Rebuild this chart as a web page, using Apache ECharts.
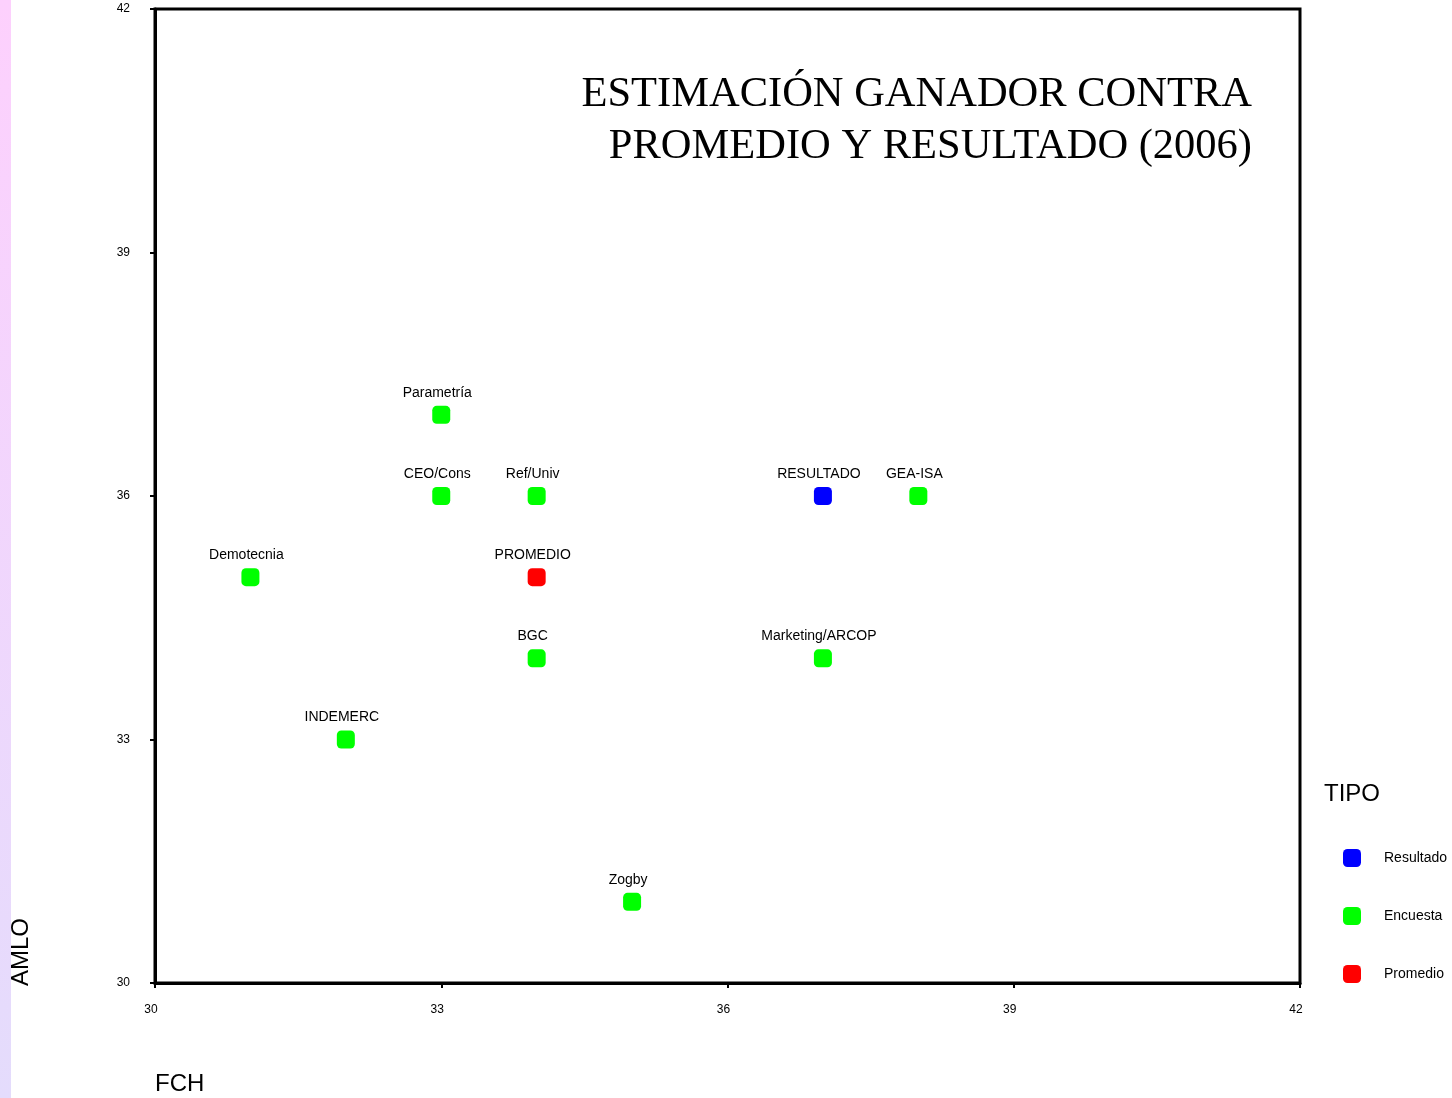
<!DOCTYPE html>
<html><head><meta charset="utf-8">
<script src="https://cdn.jsdelivr.net/npm/echarts@6/dist/echarts.min.js"></script>
<style>html,body{margin:0;padding:0;background:#fff}#c{width:1452px;height:1098px}</style>
</head><body><div id="c"></div>
<script>
const names = ['Parametría','CEO/Cons','Ref/Univ','RESULTADO','GEA-ISA','Demotecnia','PROMEDIO','BGC','Marketing/ARCOP','INDEMERC','Zogby'];
const fch   = [33,33,34,37,38,31,34,34,37,32,35];
const amlo  = [37,36,36,36,36,35,35,34,34,33,31];
const tipo  = ['Encuesta','Encuesta','Encuesta','Resultado','Encuesta','Encuesta','Promedio','Encuesta','Encuesta','Encuesta','Encuesta'];
const tipos = ['Resultado','Encuesta','Promedio'];
const colors = {Resultado:'#0000ff', Encuesta:'#00ff00', Promedio:'#ff0000'};
const xTicks = [30,33,36,39,42];
const yTicks = [30,33,36,39,42];

const chart = echarts.init(document.getElementById('c'));
const series = tipos.map(t => ({
  name: t, type: 'scatter', symbol: 'roundRect', symbolSize: 18,
  itemStyle: {color: colors[t], opacity: 1},
  label: {show: true, position: 'top', distance: 6, offset: [-4, 0], formatter: p => p.data[2],
          fontFamily: 'Liberation Sans, Arial', fontSize: 14, color: '#000'},
  data: names.map((n,i) => tipo[i] === t ? [fch[i], amlo[i], n] : null).filter(d => d)
}));
chart.setOption({
  animation: false,
  backgroundColor: '#fff',
  grid: {left: 155, right: 152, top: 9, bottom: 115, show: true, borderColor: '#000', borderWidth: 3},
  xAxis: {type: 'value', min: xTicks[0], max: xTicks[xTicks.length-1], interval: 3,
    axisLine: {show: true, lineStyle: {color: '#000', width: 3}},
    axisTick: {show: true, length: 5, lineStyle: {color: '#000', width: 2}},
    axisLabel: {margin: 21, padding: [0, 8, 0, 0], fontFamily: 'Liberation Sans, Arial', fontSize: 12, color: '#000'},
    splitLine: {show: false}},
  yAxis: {type: 'value', min: yTicks[0], max: yTicks[yTicks.length-1], interval: 3,
    axisLine: {show: true, lineStyle: {color: '#000', width: 3}},
    axisTick: {show: true, length: 5, lineStyle: {color: '#000', width: 2}},
    axisLabel: {margin: 25, padding: [6, 0, 0, 0], fontFamily: 'Liberation Sans, Arial', fontSize: 12, color: '#000'},
    splitLine: {show: false}},
  legend: {orient: 'vertical', left: 1338, top: 844, itemWidth: 18, itemHeight: 18, itemGap: 40,
    icon: 'roundRect', data: tipos,
    textStyle: {fontFamily: 'Liberation Sans, Arial', fontSize: 14, color: '#000', padding: [0,0,0,18]}},
  graphic: [
    {type: 'rect', left: 0, top: 0, shape: {width: 11, height: 1098}, z: -1,
     style: {fill: new echarts.graphic.LinearGradient(0,0,0,1,[{offset:0,color:'#fdd0fd'},{offset:1,color:'#e4dcfc'}])}},
    {type: 'text', x: 1252, y: 69, style: {text: 'ESTIMACIÓN GANADOR CONTRA\nPROMEDIO Y RESULTADO (2006)',
      textAlign: 'right', font: '42.5px "Liberation Serif", "Times New Roman", serif', lineHeight: 52, fill: '#000'}},
    {type: 'text', x: 1324, y: 782, style: {text: 'TIPO', font: '24px "Liberation Sans", Arial', fill: '#000'}},
    {type: 'text', x: 155, y: 1072, style: {text: 'FCH', font: '24px "Liberation Sans", Arial', fill: '#000'}},
    {type: 'text', x: 9, y: 986, rotation: Math.PI/2, style: {text: 'AMLO', font: '24px "Liberation Sans", Arial', fill: '#000'}}
  ],
  series: series
});
</script></body></html>
